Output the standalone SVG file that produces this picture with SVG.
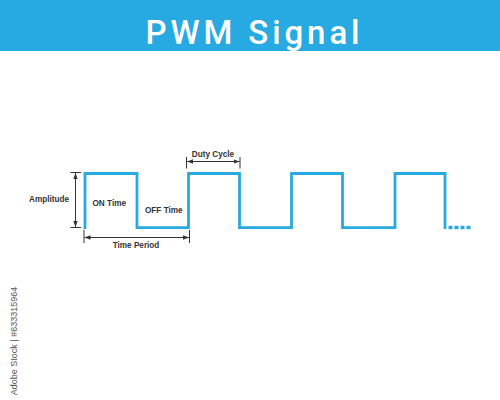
<svg xmlns="http://www.w3.org/2000/svg" width="500" height="400" viewBox="0 0 500 400">
  <defs>
    <marker id="ah" viewBox="0 0 6 6" refX="6" refY="3" markerWidth="6" markerHeight="6" orient="auto-start-reverse" markerUnits="userSpaceOnUse">
      <path d="M0,0.8 L6,3 L0,5.2 Z" fill="#333"/>
    </marker>
    <style>
      .lbl { font-family: "Liberation Sans", Arial, sans-serif; font-size: 8.2px; font-weight: bold; fill: #333; }
      .dim { stroke: #333; stroke-width: 1; fill: none; }
      .arr { stroke: #333; stroke-width: 1; fill: none; marker-start: url(#ah); marker-end: url(#ah); }
      .sig { stroke: #27a9e1; stroke-width: 2.8; fill: none; stroke-linejoin: miter; stroke-linecap: butt; }
    </style>
  </defs>
  <rect width="500" height="400" fill="#ffffff"/>
  <g id="header">
    <rect x="0" y="0" width="500" height="51" fill="#27a9e1"/>
    <text x="145.5" y="43.5" textLength="214" lengthAdjust="spacing" font-family="Roboto, 'Liberation Sans', Arial, sans-serif" font-size="33" font-weight="500" fill="#ffffff">PWM Signal</text>
  </g>
  <g id="signal">
    <path class="sig" d="M85,229 V173.5 H137 V227.7 H188.5 V173.5 H239.5 V227.7 H291.5 V173.5 H342.5 V227.7 H395 V173.5 H445 V229"/>
    <line x1="448.5" y1="227.5" x2="471" y2="227.5" stroke="#27a9e1" stroke-width="3.3" stroke-dasharray="4 2"/>
  </g>
  <g id="connectors">
    <g id="amplitude-dim">
      <line class="dim" x1="70.5" y1="172.5" x2="81" y2="172.5"/>
      <line class="dim" x1="70.5" y1="227.5" x2="81" y2="227.5"/>
      <line class="arr" x1="75.5" y1="173" x2="75.5" y2="227"/>
    </g>
    <g id="period-dim">
      <line class="dim" x1="84" y1="230" x2="84" y2="243"/>
      <line class="dim" x1="189.5" y1="230" x2="189.5" y2="243"/>
      <line class="arr" x1="84.5" y1="237.5" x2="189" y2="237.5"/>
    </g>
    <g id="duty-dim">
      <line class="dim" x1="186.5" y1="157" x2="186.5" y2="168.5"/>
      <line class="dim" x1="240" y1="157" x2="240" y2="168.5"/>
      <line class="arr" x1="187" y1="161.5" x2="239.5" y2="161.5"/>
    </g>
  </g>
  <g id="labels">
    <text id="amplitude" class="lbl" x="69" y="202" text-anchor="end" font-size="8.5">Amplitude</text>
    <text id="on-time" class="lbl" x="92.5" y="206">ON Time</text>
    <text id="off-time" class="lbl" x="145" y="213">OFF Time</text>
    <text id="time-period" class="lbl" x="136" y="247.5" text-anchor="middle">Time Period</text>
    <text id="duty-cycle" class="lbl" x="213" y="157" text-anchor="middle">Duty Cycle</text>
  </g>
  <text x="16.5" y="341" transform="rotate(-90 16.5 341)" text-anchor="middle" font-family="'Liberation Sans', Arial, sans-serif" font-size="9" fill="#555">Adobe Stock | #633315964</text>
</svg>
